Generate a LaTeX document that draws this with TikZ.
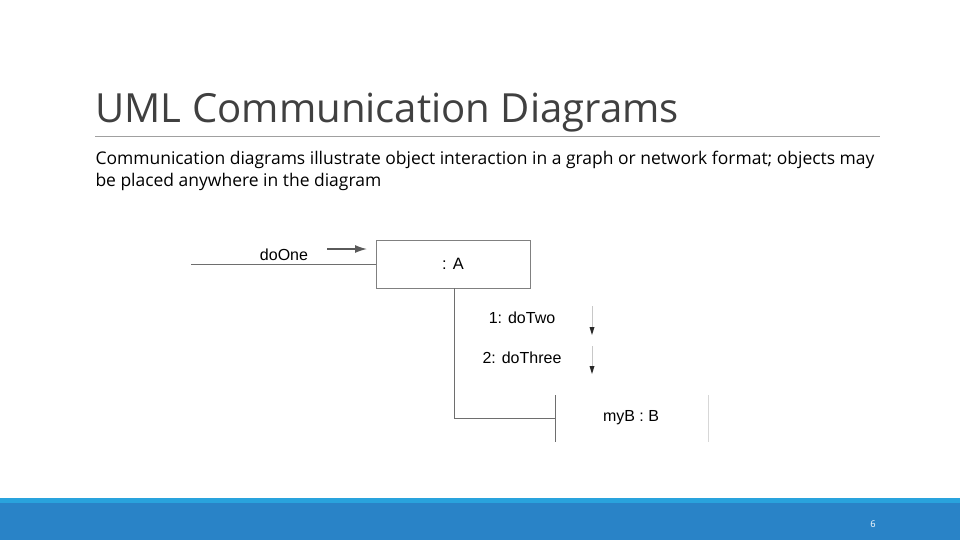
\documentclass[tikz,border=0pt]{standalone}
\usepackage{fontspec}
\usetikzlibrary{arrows.meta}
\setmainfont{Open Sans}
\newfontfamily\diagfont{Liberation Sans}
\tikzset{every picture/.style={line width=0.75pt}}
\tikzset{
  umlbox/.style={draw={rgb, 255:red, 128; green, 128; blue, 128}, line width=0.6pt, minimum width=115.5pt, minimum height=36pt, inner sep=0pt, font=\diagfont\fontsize{12.3}{14}\selectfont},
  umllabel/.style={font=\diagfont\fontsize{12}{14}\selectfont},
  umlline/.style={draw={rgb, 255:red, 110; green, 110; blue, 110}, line width=0.6pt}
}
\begin{document}
\begin{tikzpicture}[x=0.75pt,y=0.75pt,yscale=-1,xscale=1]
	\useasboundingbox (0,0) rectangle (960,540);

	%Shape: Rectangle [id:bar]
	\fill [fill={rgb, 255:red, 41; green, 131; blue, 199 }] (0,498) rectangle (960,540);
	\fill [fill={rgb, 255:red, 41; green, 163; blue, 221 }] (0,498) rectangle (960,503);
	%Straight Lines [id:rule]
	\draw [draw={rgb, 255:red, 160; green, 160; blue, 160 }, line width=0.6pt] (95,136) -- (880,136) ;

	% Text Node
	\node [anchor=base west, text={rgb, 255:red, 64; green, 64; blue, 64 }, font=\fontsize{30.1}{34}\selectfont, inner sep=0pt] (title) at (95,122) {UML Communication Diagrams};
	% Text Node
	\node [anchor=base west, font=\fontsize{13.1}{15.8}\selectfont, inner sep=0pt, align=left] (intro) at (95,186) {Communication diagrams illustrate object interaction in a graph or network format; objects may\\be placed anywhere in the diagram};

	% Shape: Rectangle
	\node [umlbox] (objA) at (453,264) {: A};
	\coordinate (start) at (191,264);
	\coordinate (bend) at (454,418);
	\coordinate (bTop) at (555,395);
	\coordinate (bBot) at (555,442);
	\coordinate (bIn) at (555,418);
	%Straight Lines
	\draw [umlline] (start) -- (objA.west) ;
	\draw [umlline] (objA.south -| bend) -- (bend) -- (bIn) ;
	\draw [umlline] (bTop) -- (bBot) ;
	\draw [draw={rgb, 255:red, 215; green, 215; blue, 215 }, line width=0.6pt] (708,395) -- (708,442) ;
	\node [umllabel] (objB) at (631,418) {myB : B};

	% Text Node
	\node [umllabel] (doOne) at (284,255) {doOne};
	\node [umllabel] (doTwo) at (522,318) {1: doTwo};
	\node [umllabel] (doThree) at (522,358) {2: doThree};

	%Arrows
	\coordinate (aOneS) at (327,249);
	\coordinate (aOneE) at (367,249);
	\draw [draw={rgb, 255:red, 90; green, 90; blue, 90 }, line width=1pt, -{Latex[length=9pt,width=6pt]}] (aOneS) -- (aOneE) ;
	\foreach \ys/\ye in {306/335, 346/374}{
	\draw [draw={rgb, 255:red, 200; green, 200; blue, 200 }, line width=0.5pt] (592,\ys) -- (592,\ye-6) ;
	\fill [fill={rgb, 255:red, 40; green, 40; blue, 40 }] (589.5,\ye-8) -- (594.5,\ye-8) -- (592,\ye) -- cycle ;
	}

	% Text Node
	\node [text=white, font=\fontsize{7}{8}\selectfont] (page) at (873,524) {6};
\end{tikzpicture}
\end{document}
